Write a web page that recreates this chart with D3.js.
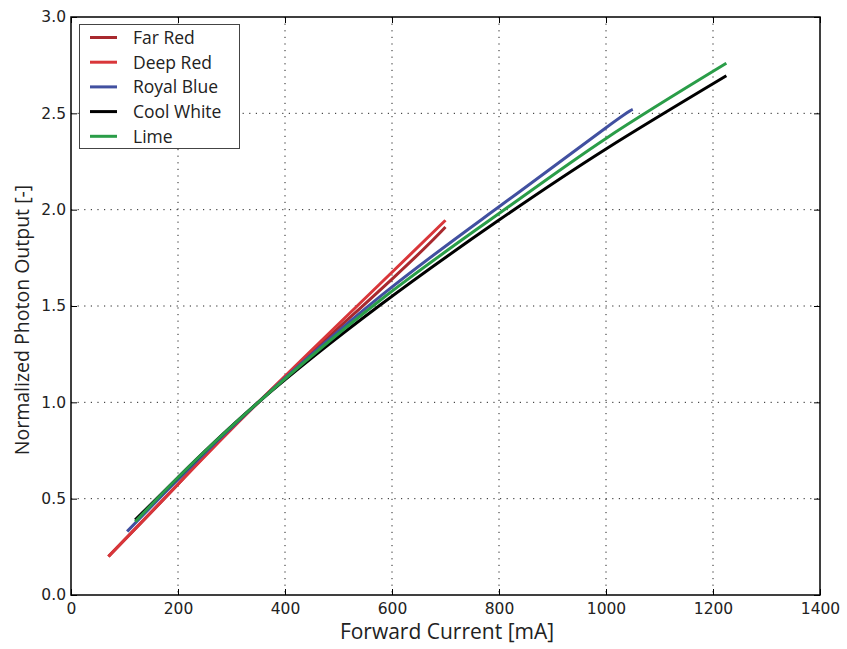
<!DOCTYPE html>
<html>
<head>
<meta charset="utf-8">
<script src="https://cdn.jsdelivr.net/npm/d3@7"></script>
<style>
  body { margin: 0; background: #fff; }
  svg { display: block; }
</style>
</head>
<body>
<svg id="chart" width="847" height="649"></svg>
<script>
// ---- Data ----
const seriesNames = ["Far Red", "Deep Red", "Royal Blue", "Cool White", "Lime"];
const seriesColors = ["#a8292e", "#d9363a", "#4150a0", "#000000", "#2a9d48"];

const farRedCurrent   = [70, 200, 350, 600, 700];
const farRedOutput    = [0.20, 0.575, 1.00, 1.64, 1.91];
const deepRedCurrent  = [70, 200, 350, 600, 700];
const deepRedOutput   = [0.20, 0.575, 1.00, 1.675, 1.945];
const royalBlueCurrent = [105, 200, 350, 578, 800, 1000, 1050];
const royalBlueOutput  = [0.33, 0.60, 1.00, 1.55, 2.015, 2.425, 2.52];
const coolWhiteCurrent = [120, 200, 350, 578, 800, 1000, 1225];
const coolWhiteOutput  = [0.39, 0.61, 1.00, 1.505, 1.946, 2.315, 2.695];
const limeCurrent = [120, 200, 350, 578, 800, 1000, 1225];
const limeOutput  = [0.38, 0.61, 1.00, 1.53, 1.98, 2.37, 2.76];

const xTicks = [0, 200, 400, 600, 800, 1000, 1200, 1400];
const yTicks = [0.0, 0.5, 1.0, 1.5, 2.0, 2.5, 3.0];

const xLabel = "Forward Current [mA]";
const yLabel = "Normalized Photon Output [-]";

const allCurrents = [farRedCurrent, deepRedCurrent, royalBlueCurrent, coolWhiteCurrent, limeCurrent];
const allOutputs  = [farRedOutput, deepRedOutput, royalBlueOutput, coolWhiteOutput, limeOutput];

(function () {
// ---- Layout ----
const svg = d3.select("#chart");
const pLeft = 71, pRight = 820, pTop = 17, pBottom = 595;

const x = d3.scaleLinear().domain([0, 1400]).range([pLeft, pRight]);
const y = d3.scaleLinear().domain([0, 3]).range([pBottom, pTop]);

// Grid
const grid = svg.append("g");
grid.selectAll(".vg").data(xTicks.slice(1, -1)).enter().append("line")
  .attr("x1", d => x(d)).attr("x2", d => x(d))
  .attr("y1", pTop).attr("y2", pBottom)
  .attr("stroke", "#222").attr("stroke-width", 1).attr("stroke-dasharray", "1.2,5.4");
grid.selectAll(".hg").data(yTicks.slice(1, -1)).enter().append("line")
  .attr("y1", d => y(d)).attr("y2", d => y(d))
  .attr("x1", pLeft).attr("x2", pRight)
  .attr("stroke", "#222").attr("stroke-width", 1).attr("stroke-dasharray", "1.2,5.4");

// Lines
const line = d3.line().x(d => x(d[0])).y(d => y(d[1])).curve(d3.curveNatural);
seriesNames.forEach((name, i) => {
  const pts = allCurrents[i].map((c, j) => [c, allOutputs[i][j]]);
  svg.append("path").datum(pts)
    .attr("d", line)
    .attr("fill", "none")
    .attr("stroke", seriesColors[i])
    .attr("stroke-width", 3);
});

// Axes (ticks inward on all sides)
const tickLen = 6;
const fmtY = d3.format(".1f");
const fmtX = d3.format("d");
const axB = d3.axisBottom(x).tickValues(xTicks).tickSizeInner(-tickLen).tickSizeOuter(0).tickPadding(8).tickFormat(fmtX);
const axT = d3.axisTop(x).tickValues(xTicks).tickSizeInner(-tickLen).tickSizeOuter(0).tickFormat("");
const axL = d3.axisLeft(y).tickValues(yTicks).tickSizeInner(-tickLen).tickSizeOuter(0).tickPadding(5).tickFormat(fmtY);
const axR = d3.axisRight(y).tickValues(yTicks).tickSizeInner(-tickLen).tickSizeOuter(0).tickFormat("");

function styleAxis(g) {
  g.select(".domain").remove();
  g.selectAll(".tick line").attr("stroke", "#000").attr("stroke-width", 1);
  g.selectAll(".tick text").attr("fill", "#222")
    .style("font-family", "'DejaVu Sans', sans-serif").style("font-size", "15.5px");
}
svg.append("g").attr("transform", `translate(0,${pBottom})`).call(axB).call(styleAxis);
svg.append("g").attr("transform", `translate(0,${pTop})`).call(axT).call(styleAxis);
svg.append("g").attr("transform", `translate(${pLeft},0)`).call(axL).call(styleAxis);
svg.append("g").attr("transform", `translate(${pRight},0)`).call(axR).call(styleAxis);

// Frame
svg.append("rect").attr("x", pLeft).attr("y", pTop)
  .attr("width", pRight - pLeft).attr("height", pBottom - pTop)
  .attr("fill", "none").attr("stroke", "#000").attr("stroke-width", 1.5);

// Axis labels
svg.append("text").attr("x", 447).attr("y", 639)
  .attr("text-anchor", "middle")
  .style("font-family", "'Open Sans', sans-serif").style("font-size", "21px").attr("fill", "#222")
  .text(xLabel);
svg.append("text")
  .attr("transform", `translate(29,320) rotate(-90)`)
  .attr("text-anchor", "middle")
  .style("font-family", "'Open Sans', sans-serif").style("font-size", "19.5px").attr("fill", "#222")
  .text(yLabel);

// Legend
const lg = svg.append("g");
lg.append("rect").attr("x", 79.5).attr("y", 24.5).attr("width", 160).attr("height", 124)
  .attr("fill", "#fff").attr("stroke", "#444").attr("stroke-width", 1);
seriesNames.forEach((name, i) => {
  const yy = 37.5 + i * 24.7;
  lg.append("line").attr("x1", 90).attr("x2", 117).attr("y1", yy).attr("y2", yy)
    .attr("stroke", seriesColors[i]).attr("stroke-width", 3);
  lg.append("text").attr("x", 133).attr("y", yy).attr("dy", "0.36em")
    .style("font-family", "'Open Sans', sans-serif").style("font-size", "17.5px").attr("fill", "#222")
    .text(name);
});
})();
</script>
</body>
</html>
